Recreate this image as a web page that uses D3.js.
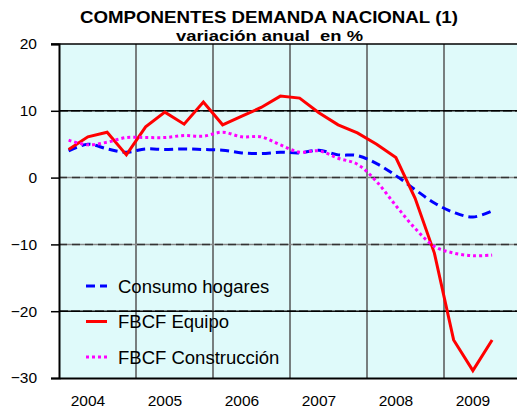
<!DOCTYPE html>
<html>
<head>
<meta charset="utf-8">
<script src="https://cdn.jsdelivr.net/npm/d3@7"></script>
<style>
  body { margin: 0; background: #fff; }
  svg text { font-family: "Liberation Sans", Arial, sans-serif; fill: #000; }
</style>
</head>
<body>
<div id="chart"></div>
<script>
// quarters 2004 T1 .. 2009 T4 (last one has no data)
var years = ["2004", "2005", "2006", "2007", "2008", "2009"];
var quarters = [];
years.forEach(function(y) { [1, 2, 3, 4].forEach(function(q) { quarters.push(y + "T" + q); }); });

// variación anual en %
var consumoHogares = [4.0, 5.0, 4.3, 3.8, 4.3, 4.2, 4.3, 4.2, 4.1, 3.7, 3.6, 3.8,
                      3.7, 4.1, 3.4, 3.3, 2.1, 0.3, -1.8, -3.8, -5.2, -5.9, -5.0];
var fbcfEquipo = [4.2, 6.1, 6.8, 3.4, 7.6, 9.8, 8.0, 11.3, 7.9, 9.2, 10.5, 12.2,
                  11.9, 9.7, 7.9, 6.7, 5.0, 3.0, -3.1, -11.3, -24.3, -28.9, -24.3];
var fbcfConstruccion = [5.6, 4.9, 5.3, 6.0, 6.0, 6.0, 6.3, 6.2, 6.8, 6.1, 6.1, 4.9,
                        3.8, 4.0, 2.9, 2.0, -0.6, -4.2, -7.6, -10.3, -11.3, -11.7, -11.6];
var yTicks = [20, 10, 0, -10, -20, -30];

var series = [
  { name: "Consumo hogares", values: consumoHogares, color: "#0000ff", dash: "9,5", smooth: true },
  { name: "FBCF Equipo", values: fbcfEquipo, color: "#ff0000", dash: null, smooth: false },
  { name: "FBCF Construcción", values: fbcfConstruccion, color: "#ff00ff", dash: "3,3", smooth: true }
];

var width = 517, height = 412;
var plot = { left: 59, top: 44, right: 521, bottom: 378 };

var svg = d3.select("#chart").append("svg")
    .attr("width", width)
    .attr("height", height);

var x = d3.scaleBand().domain(quarters).range([plot.left, plot.right]);
var y = d3.scaleLinear().domain([-30, 20]).range([plot.bottom, plot.top]);
var cx = function(i) { return x(quarters[i]) + x.bandwidth() / 2; };

// background of plot area
svg.append("rect")
    .attr("x", plot.left).attr("y", plot.top)
    .attr("width", plot.right - plot.left).attr("height", plot.bottom - plot.top)
    .attr("fill", "#dffafa");

// vertical lines between years
years.slice(1).forEach(function(yr) {
  var xx = x(yr + "T1");
  svg.append("line")
      .attr("x1", xx).attr("x2", xx)
      .attr("y1", plot.top).attr("y2", plot.bottom)
      .attr("stroke", "#555").attr("stroke-width", 1.5);
});

// horizontal grid lines
[10, 0, -10, -20].forEach(function(v) {
  var strong = (v === 10 || v === -20);
  svg.append("line")
      .attr("x1", plot.left).attr("x2", plot.right)
      .attr("y1", y(v)).attr("y2", y(v))
      .attr("stroke", strong ? "#111" : "#888").attr("stroke-width", 1.5);
  svg.append("line")
      .attr("x1", plot.left).attr("x2", plot.right)
      .attr("y1", y(v)).attr("y2", y(v))
      .attr("stroke", strong ? "#000" : "#333").attr("stroke-width", 1.5)
      .attr("stroke-dasharray", strong ? "9,3" : "8,5");
});

// series
series.forEach(function(s) {
  var line = d3.line()
      .defined(function(d) { return d != null; })
      .x(function(d, i) { return cx(i); })
      .y(function(d) { return y(d); })
      .curve(s.smooth ? d3.curveCatmullRom.alpha(0.5) : d3.curveLinear);
  svg.append("path")
      .datum(s.values)
      .attr("fill", "none")
      .attr("stroke", s.color)
      .attr("stroke-width", 3)
      .attr("stroke-dasharray", s.dash)
      .attr("d", line);
});

// top border
svg.append("line")
    .attr("x1", plot.left - 8).attr("x2", plot.right)
    .attr("y1", plot.top).attr("y2", plot.top)
    .attr("stroke", "#000").attr("stroke-width", 1.5);

// bottom axis with year labels under the 2nd quarter
var xAxis = svg.append("g")
    .attr("transform", "translate(0," + plot.bottom + ")")
    .call(d3.axisBottom(x)
      .tickValues(years.map(function(yr) { return yr + "T2"; }))
      .tickFormat(function(d) { return d.slice(0, 4); })
      .tickSize(0).tickPadding(17));
xAxis.select(".domain").attr("stroke", "#000").attr("stroke-width", 2);
xAxis.selectAll("text").attr("font-size", 15.5);

// left axis
var yAxis = svg.append("g")
    .attr("transform", "translate(" + plot.left + ",0)")
    .call(d3.axisLeft(y).tickValues(yTicks).tickSize(8).tickPadding(14));
yAxis.select(".domain").attr("stroke", "#000").attr("stroke-width", 2);
yAxis.selectAll(".tick line").attr("stroke", "#000").attr("stroke-width", 1.5);
yAxis.selectAll("text").attr("font-size", 15.5);

// title (text in the original is stretched horizontally)
svg.append("text")
    .attr("x", 80).attr("y", 23)
    .attr("font-size", 17).attr("font-weight", "bold")
    .attr("textLength", 378).attr("lengthAdjust", "spacingAndGlyphs")
    .text("COMPONENTES DEMANDA NACIONAL (1)");
svg.append("text")
    .attr("x", 176).attr("y", 41)
    .attr("font-size", 15).attr("font-weight", "bold")
    .attr("textLength", 187).attr("lengthAdjust", "spacingAndGlyphs")
    .style("white-space", "pre")
    .text("variación anual  en %");

// legend
var legend = svg.append("g").attr("transform", "translate(86,286)");
series.forEach(function(s, i) {
  var g = legend.append("g").attr("transform", "translate(0," + (i * 35.5) + ")");
  g.append("line")
      .attr("x1", 0).attr("x2", 21).attr("y1", 0).attr("y2", 0)
      .attr("stroke", s.color).attr("stroke-width", 3)
      .attr("stroke-dasharray", s.dash);
  g.append("text")
      .attr("x", 32).attr("y", 6.5)
      .attr("font-size", 18.5)
      .text(s.name);
});
</script>
</body>
</html>
